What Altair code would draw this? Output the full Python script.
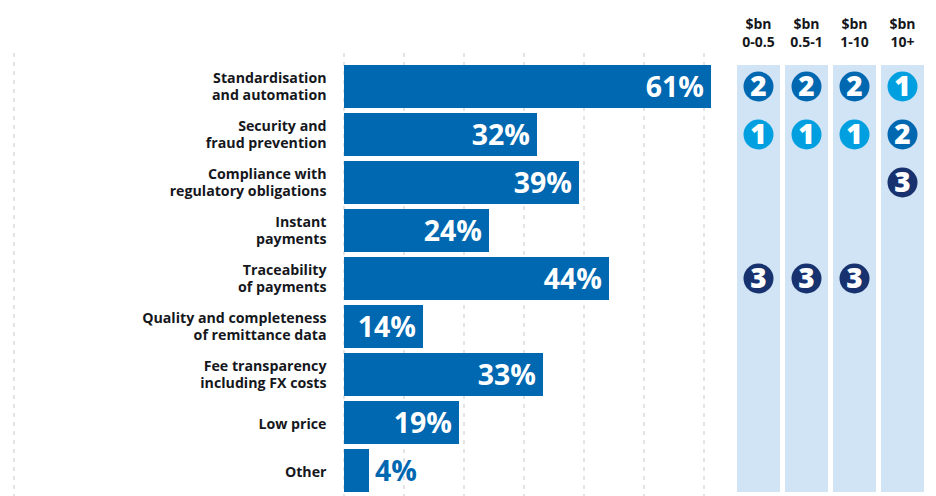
import altair as alt
import pandas as pd

categories = [
    "Standardisation\nand automation",
    "Security and\nfraud prevention",
    "Compliance with\nregulatory obligations",
    "Instant\npayments",
    "Traceability\nof payments",
    "Quality and completeness\nof remittance data",
    "Fee transparency\nincluding FX costs",
    "Low price",
    "Other",
]
shares = [61, 32, 39, 24, 44, 14, 33, 19, 4]
bar_lengths = [61.17, 32.17, 39.17, 24.17, 44.17, 13.17, 33.17, 19.17, 4.17]
grid_ticks = [-55, 0, 10, 20, 30, 40, 50, 60]
groups = ["$bn\n0-0.5", "$bn\n0.5-1", "$bn\n1-10", "$bn\n10+"]
rank_rows = [
    (0, 0, 2), (1, 0, 2), (2, 0, 2), (3, 0, 1),
    (0, 1, 1), (1, 1, 1), (2, 1, 1), (3, 1, 2),
    (3, 2, 3),
    (0, 4, 3), (1, 4, 3), (2, 4, 3),
]
rank_levels = [1, 2, 3]
rank_colors = ["#009fe0", "#0067b1", "#17326e"]

FONT = "Open Sans"
BAR = "#0067b1"
PANEL = "#d0e4f5"
INK = "#15171c"

bars_df = pd.DataFrame({"cat": categories, "share": bar_lengths})
bars_df["label"] = [f"{s}%" for s in shares]
bars_df["printed"] = shares
bars_df["two"] = bars_df["cat"].str.contains("\n")
inside_df = bars_df[bars_df["printed"] >= 10]
outside_df = bars_df[bars_df["printed"] < 10]
grid_df = pd.DataFrame({"v": grid_ticks})
group_df = pd.DataFrame({"group": groups})
rank_df = pd.DataFrame(
    [{"group": groups[g], "cat": categories[c], "rank": r} for g, c, r in rank_rows]
)

x_val = alt.Scale(domain=[-56, 97.3333], range=[0, 920])
y_band = alt.Scale(domain=categories, range=[57, 484], paddingInner=5 / 48, paddingOuter=0)
x_band = alt.Scale(domain=groups, range=[729, 916], paddingInner=5 / 48, paddingOuter=0)

X = alt.X("share:Q", scale=x_val, axis=None)
Y = alt.Y("cat:N", scale=y_band, axis=None, sort=None)
XG = alt.X("group:N", scale=x_band, axis=None, sort=None)

grid = (
    alt.Chart(grid_df)
    .mark_rule(color="#c9c9c9", strokeWidth=1, strokeDash=[4, 5])
    .encode(x=alt.X("v:Q", scale=x_val, axis=None), y=alt.value(45), y2=alt.value(488))
)
bars = alt.Chart(bars_df).mark_bar(color=BAR, cornerRadius=0).encode(
    x=X, x2=alt.datum(0), y=Y
)
label_style = dict(
    align="right", baseline="middle", font=FONT, fontWeight=700, fontSize=14.2,
    lineBreak="\n", lineHeight=17, color=INK,
)
cat_two = alt.Chart(bars_df[bars_df["two"]]).mark_text(dy=-8, **label_style).encode(
    x=alt.value(318.5), y=Y, text="cat:N"
)
cat_one = alt.Chart(bars_df[~bars_df["two"]]).mark_text(dy=2, **label_style).encode(
    x=alt.value(318.5), y=Y, text="cat:N"
)
inside = alt.Chart(inside_df).mark_text(
    align="right", baseline="middle", dx=-7, dy=1, font=FONT, fontWeight=700, fontSize=28.5, color="white",
).encode(x=X, y=Y, text="label:N")
outside = alt.Chart(outside_df).mark_text(
    align="left", baseline="middle", dx=6, dy=1, font=FONT, fontWeight=700, fontSize=28.5, color=BAR,
).encode(x=X, y=Y, text="label:N")

left = alt.layer(grid, bars, cat_two, cat_one, inside, outside)

panels = alt.Chart(group_df).mark_bar(color=PANEL).encode(
    x=XG, y=alt.value(57), y2=alt.value(484)
)
headers = alt.Chart(group_df).mark_text(
    align="center", baseline="middle", font=FONT, fontWeight=700, fontSize=14,
    lineBreak="\n", lineHeight=18, color=INK,
).encode(x=XG, y=alt.value(17), text="group:N")
circles = alt.Chart(rank_df).mark_circle(size=900, opacity=1).encode(
    x=XG, y=Y,
    color=alt.Color("rank:O", scale=alt.Scale(domain=rank_levels, range=rank_colors), legend=None),
)
digits = alt.Chart(rank_df).mark_text(
    align="center", baseline="middle", dy=1, font=FONT, fontWeight=800, fontSize=28, color="white",
).encode(x=XG, y=Y, text="rank:O")

right = alt.layer(panels, headers, circles, digits)

chart = (
    alt.layer(left, right)
    .resolve_scale(x="independent")
    .properties(width=920, height=488, padding=0, autosize=alt.AutoSizeParams(type="none"))
    .configure_view(stroke=None)
)
chart.save("out.html", embed_options={"renderer": "svg", "actions": False})
